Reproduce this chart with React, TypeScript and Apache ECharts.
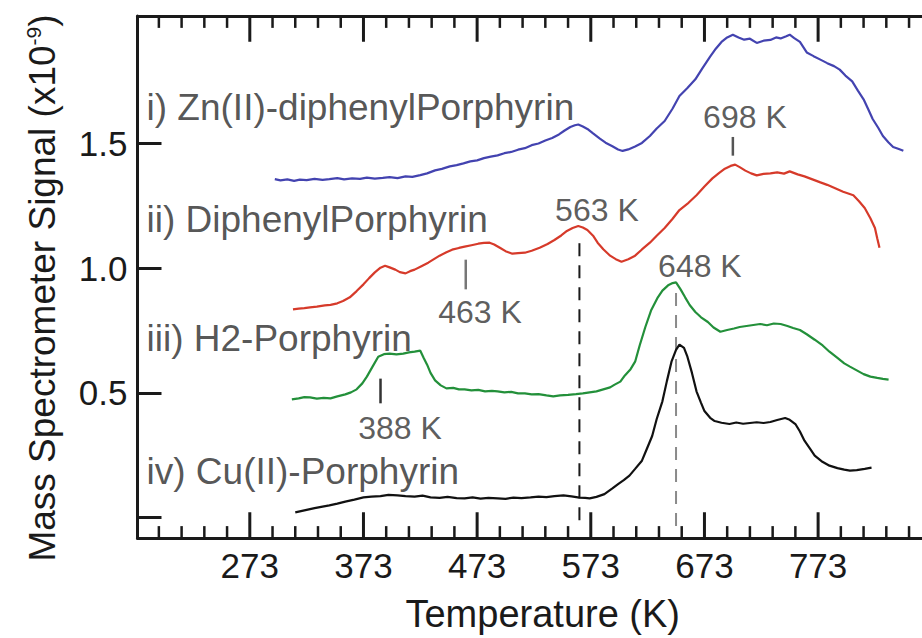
import React, { useEffect, useRef } from "react";
import * as echarts from "echarts";

// Axis ranges (K and signal x1e-9)
const X_MIN = 174.2;
const X_MAX = 864.4;
const Y_MIN = -0.082;
const Y_MAX = 2.011;

const majorTicksX = [273, 373, 473, 573, 673, 773];
const minorTicksX = [193, 213, 233, 253, 293, 313, 333, 353, 393, 413, 433, 453, 493, 513, 533, 553, 593, 613, 633, 653, 693, 713, 733, 753, 793, 813, 833, 853];
const yTicks = [0, 0.5, 1.0, 1.5];
const yLabels = [0.5, 1.0, 1.5];

// i) Zn(II)-diphenylPorphyrin
const znDiphenyl: [number, number][] = [
  [295, 1.357], [300, 1.352], [306, 1.356], [312, 1.350], [317, 1.355], [323, 1.353], [330, 1.358], [337, 1.354],
  [343, 1.357], [350, 1.361], [356, 1.356], [363, 1.360], [370, 1.358], [376, 1.363], [383, 1.359], [390, 1.362],
  [396, 1.365], [403, 1.361], [410, 1.368], [416, 1.366], [423, 1.373], [429, 1.380], [436, 1.392], [442, 1.398],
  [449, 1.408], [455, 1.413], [461, 1.420], [467, 1.428], [473, 1.432], [479, 1.441], [485, 1.447], [491, 1.452],
  [497, 1.461], [503, 1.466], [509, 1.475], [515, 1.481], [521, 1.493], [527, 1.500], [533, 1.512], [539, 1.522],
  [545, 1.536], [550, 1.552], [555, 1.566], [559, 1.573], [562, 1.576], [566, 1.568], [570, 1.558], [575, 1.540],
  [581, 1.519], [586, 1.503], [592, 1.489], [597, 1.476], [601, 1.470], [606, 1.476], [612, 1.488], [618, 1.502],
  [625, 1.530], [631, 1.560], [638, 1.590], [645, 1.640], [651, 1.690], [658, 1.722], [665, 1.757], [671, 1.800],
  [678, 1.848], [683, 1.880], [688, 1.907], [693, 1.925], [698, 1.936], [703, 1.925], [708, 1.916], [713, 1.920],
  [719, 1.903], [725, 1.912], [731, 1.915], [736, 1.925], [740, 1.921], [745, 1.930], [748, 1.936], [752, 1.922],
  [757, 1.907], [763, 1.865], [769, 1.850], [775, 1.836], [781, 1.822], [787, 1.810], [792, 1.796], [797, 1.772],
  [803, 1.749], [808, 1.712], [813, 1.677], [817, 1.638], [821, 1.598], [826, 1.562], [830, 1.530], [835, 1.504],
  [839, 1.486], [844, 1.478], [848, 1.471],
];

// ii) DiphenylPorphyrin
const diphenyl: [number, number][] = [
  [311, 0.835], [316, 0.838], [321, 0.840], [326, 0.843], [332, 0.846], [339, 0.851], [344, 0.853], [350, 0.859],
  [355, 0.868], [361, 0.883], [367, 0.908], [373, 0.935], [378, 0.960], [383, 0.983], [388, 1.002], [392, 1.010],
  [396, 1.003], [401, 0.994], [405, 0.984], [410, 0.979], [414, 0.988], [418, 0.994], [424, 1.008], [430, 1.022],
  [435, 1.036], [440, 1.050], [446, 1.064], [451, 1.074], [457, 1.081], [462, 1.086], [468, 1.092], [474, 1.098],
  [479, 1.101], [484, 1.102], [488, 1.095], [493, 1.082], [498, 1.068], [504, 1.058], [509, 1.060], [515, 1.062],
  [521, 1.070], [528, 1.082], [535, 1.097], [541, 1.113], [547, 1.131], [552, 1.149], [557, 1.161], [562, 1.169],
  [566, 1.163], [570, 1.153], [575, 1.130], [579, 1.102], [584, 1.076], [590, 1.050], [595, 1.036], [600, 1.026],
  [606, 1.036], [612, 1.050], [618, 1.075], [625, 1.102], [631, 1.130], [638, 1.161], [645, 1.198], [651, 1.233],
  [659, 1.262], [666, 1.292], [673, 1.327], [680, 1.360], [686, 1.382], [691, 1.399], [696, 1.410], [700, 1.415],
  [704, 1.405], [709, 1.391], [714, 1.380], [719, 1.372], [725, 1.378], [731, 1.380], [737, 1.384], [743, 1.379],
  [748, 1.388], [755, 1.376], [761, 1.368], [768, 1.356], [775, 1.344], [781, 1.334], [788, 1.320], [795, 1.306],
  [804, 1.292], [809, 1.268], [814, 1.241], [819, 1.200], [823, 1.161], [825, 1.120], [827, 1.082],
];

// iii) H2-Porphyrin
const h2Porphyrin: [number, number][] = [
  [310, 0.474], [316, 0.478], [321, 0.483], [326, 0.482], [332, 0.477], [338, 0.480], [344, 0.478], [350, 0.486],
  [357, 0.494], [362, 0.502], [367, 0.514], [372, 0.538], [376, 0.565], [381, 0.605], [386, 0.645], [391, 0.655],
  [396, 0.657], [402, 0.654], [408, 0.657], [413, 0.662], [418, 0.665], [423, 0.669], [426, 0.640], [429, 0.613],
  [432, 0.580], [436, 0.550], [441, 0.530], [446, 0.518], [452, 0.520], [457, 0.514], [462, 0.514], [468, 0.510],
  [474, 0.512], [480, 0.506], [486, 0.508], [491, 0.506], [497, 0.502], [503, 0.504], [509, 0.498], [515, 0.498],
  [521, 0.494], [527, 0.495], [534, 0.490], [540, 0.486], [546, 0.490], [553, 0.492], [560, 0.495], [566, 0.498],
  [572, 0.502], [578, 0.506], [584, 0.514], [590, 0.522], [594, 0.533], [599, 0.545], [603, 0.570], [608, 0.595],
  [612, 0.625], [616, 0.690], [621, 0.764], [626, 0.830], [632, 0.883], [636, 0.910], [641, 0.931], [645, 0.940],
  [648, 0.943], [652, 0.915], [656, 0.883], [660, 0.852], [665, 0.824], [670, 0.803], [676, 0.784], [681, 0.762],
  [687, 0.745], [693, 0.752], [699, 0.758], [704, 0.764], [710, 0.768], [716, 0.772], [722, 0.776], [728, 0.771],
  [734, 0.778], [740, 0.776], [746, 0.768], [751, 0.760], [757, 0.752], [763, 0.735], [770, 0.713], [777, 0.690],
  [783, 0.665], [790, 0.640], [796, 0.618], [801, 0.605], [807, 0.590], [813, 0.575], [819, 0.565], [825, 0.560],
  [830, 0.556], [835, 0.553],
];

// iv) Cu(II)-Porphyrin
const cuPorphyrin: [number, number][] = [
  [313, 0.021], [318, 0.026], [324, 0.032], [330, 0.038], [337, 0.044], [343, 0.049], [350, 0.056], [357, 0.064],
  [365, 0.072], [373, 0.081], [380, 0.084], [388, 0.086], [395, 0.091], [403, 0.089], [410, 0.086], [418, 0.084],
  [425, 0.088], [432, 0.081], [440, 0.079], [447, 0.083], [455, 0.078], [462, 0.077], [469, 0.081], [476, 0.076],
  [483, 0.079], [491, 0.077], [498, 0.075], [505, 0.080], [512, 0.078], [520, 0.081], [527, 0.084], [534, 0.082],
  [541, 0.086], [549, 0.089], [556, 0.085], [563, 0.080], [568, 0.079], [572, 0.077], [578, 0.083], [585, 0.094],
  [592, 0.117], [597, 0.134], [602, 0.150], [607, 0.168], [612, 0.195], [618, 0.228], [622, 0.272], [627, 0.327],
  [631, 0.395], [636, 0.466], [640, 0.548], [644, 0.625], [648, 0.672], [651, 0.693], [655, 0.680], [658, 0.645],
  [662, 0.580], [666, 0.506], [670, 0.460], [673, 0.427], [678, 0.400], [682, 0.387], [688, 0.380], [695, 0.375],
  [701, 0.381], [707, 0.376], [713, 0.379], [719, 0.382], [725, 0.379], [731, 0.383], [737, 0.391], [744, 0.399],
  [748, 0.392], [753, 0.375], [757, 0.345], [761, 0.308], [766, 0.275], [770, 0.248], [776, 0.226], [783, 0.208],
  [790, 0.198], [796, 0.192], [801, 0.188], [807, 0.190], [814, 0.195], [820, 0.200],
];

const seriesNames = [
  "i) Zn(II)-diphenylPorphyrin",
  "ii) DiphenylPorphyrin",
  "iii) H2-Porphyrin",
  "iv) Cu(II)-Porphyrin",
];
// curve-name label anchors [K, signal]
const nameAnchors: [number, number][] = [
  [181.7, 1.646],
  [181.7, 1.196],
  [181.7, 0.718],
  [181.7, 0.184],
];

// Peak temperatures and their annotation labels
const peakLabels = ["698 K", "563 K", "463 K", "648 K", "388 K"];
const peakLabelAnchors: [number, number][] = [
  [708.6, 1.606],
  [578.4, 1.235],
  [475.5, 0.824],
  [669.0, 1.010],
  [405.2, 0.358],
];
// short marker ticks [K, from, to]
const peakTicks: [number, number, number][] = [
  [698, 1.526, 1.451],
  [463, 1.034, 0.915],
  [388, 0.557, 0.458],
];
// dashed guide lines [K, from, to]
const guide563: [number, number, number] = [563, 1.10, -0.03];
const guide648: [number, number, number] = [648, 0.90, -0.05];

const FONT = "'Liberation Sans', Arial, Helvetica, sans-serif";
const INK = "#1a1a1a";
const GRID_TOP = 16;
const GRID_BOTTOM = 95;
const CHART_H = 638;

export default function App() {
  const ref = useRef<HTMLDivElement>(null);

  useEffect(() => {
    if (!ref.current) return;
    const chart = echarts.init(ref.current, undefined, { renderer: "svg" });

    const unitsPerPx = (Y_MAX - Y_MIN) / (CHART_H - GRID_TOP - GRID_BOTTOM);

    const lineSeries = (name: string, data: [number, number][], color: string) => ({
      type: "line",
      name,
      data,
      showSymbol: false,
      symbol: "none",
      silent: true,
      lineStyle: { color, width: 2.2 },
      z: 3,
    });

    const vSeg = (seg: [number, number, number], color: string, dashed: boolean, width: number, z = 2) => ({
      type: "line",
      data: [
        [seg[0], seg[1]],
        [seg[0], seg[2]],
      ],
      symbol: "none",
      silent: true,
      clip: false,
      lineStyle: { color, width, type: dashed ? [13, 9] : "solid" },
      z,
    });

    // x frame ticks on bottom and top, pointing inward (short vertical segments in data space)
    const frameTicks = (values: number[], lenPx: number, lw: number) =>
      values.flatMap((t) => [
        vSeg([t, Y_MIN, Y_MIN + lenPx * unitsPerPx], INK, false, lw, 10),
        vSeg([t, Y_MAX, Y_MAX - lenPx * unitsPerPx], INK, false, lw, 10),
      ]);

    chart.setOption({
      animation: false,
      backgroundColor: "#ffffff",
      grid: { left: 137.5, right: 0, top: GRID_TOP, bottom: GRID_BOTTOM, containLabel: false },
      xAxis: [
        {
          type: "value",
          min: X_MIN,
          max: X_MAX,
          position: "bottom",
          splitLine: { show: false },
          name: "Temperature (K)",
          nameLocation: "middle",
          nameGap: 57,
          nameTextStyle: { fontFamily: FONT, fontSize: 38, color: INK, padding: [0, 0, 0, 26] },
          axisLine: { show: true, onZero: false, lineStyle: { color: INK, width: 3 } },
          axisTick: { show: false },
          axisLabel: { show: true, customValues: majorTicksX, margin: 10, fontFamily: FONT, fontSize: 35, color: INK },
        },
        {
          type: "value",
          min: X_MIN,
          max: X_MAX,
          position: "top",
          splitLine: { show: false },
          axisLine: { show: true, onZero: false, lineStyle: { color: INK, width: 3 } },
          axisTick: { show: false },
          axisLabel: { show: false },
        },
      ],
      yAxis: [
        {
          type: "value",
          min: Y_MIN,
          max: Y_MAX,
          position: "left",
          splitLine: { show: false },
          name: "{a|Mass Spectrometer Signal (x10}{s|-9}{a|)}",
          nameLocation: "middle",
          nameGap: 76,
          nameRotate: 90,
          nameTextStyle: {
            color: INK,
            padding: [0, 22, 0, 0],
            rich: {
              a: { fontFamily: FONT, fontSize: 37, color: INK },
              s: { fontFamily: FONT, fontSize: 21, color: INK, padding: [0, 0, 18, 0] },
            },
          },
          axisLine: { show: true, onZero: false, lineStyle: { color: INK, width: 3 } },
          axisTick: { show: true, inside: true, length: 24, customValues: yTicks, lineStyle: { color: INK, width: 3 } },
          axisLabel: {
            show: true,
            customValues: yLabels,
            margin: 10,
            fontFamily: FONT,
            fontSize: 35,
            color: INK,
            formatter: (v: number) => v.toFixed(1),
          },
        },
      ],
      series: [
        ...frameTicks(majorTicksX, 26, 3),
        ...frameTicks(minorTicksX, 12, 2.5),
        vSeg(guide563, "#1a1a1a", true, 2),
        vSeg(guide648, "#8a8a8a", true, 2),
        vSeg(peakTicks[0], "#555555", false, 2.5),
        vSeg(peakTicks[1], "#777777", false, 2.5),
        vSeg(peakTicks[2], "#333333", false, 2.5),
        lineSeries(seriesNames[0], znDiphenyl, "#4343b0"),
        lineSeries(seriesNames[1], diphenyl, "#d63a2a"),
        lineSeries(seriesNames[2], h2Porphyrin, "#23903a"),
        lineSeries(seriesNames[3], cuPorphyrin, "#111111"),
        {
          type: "scatter",
          silent: true,
          symbolSize: 1,
          itemStyle: { color: "rgba(0,0,0,0)" },
          data: nameAnchors.map((p, i) => ({ value: p, name: seriesNames[i] })),
          label: {
            show: true,
            position: "right",
            distance: 0,
            formatter: (p: any) => p.name,
            fontFamily: FONT,
            fontSize: 37,
            color: "#2a2a2a",
          },
          z: 4,
        },
        {
          type: "scatter",
          silent: true,
          symbolSize: 1,
          itemStyle: { color: "rgba(0,0,0,0)" },
          data: peakLabelAnchors.map((p, i) => ({ value: p, name: peakLabels[i] })),
          label: {
            show: true,
            position: "inside",
            formatter: (p: any) => p.name,
            fontFamily: FONT,
            fontSize: 32,
            color: "#333333",
          },
          z: 4,
        },
      ],
    });

    return () => chart.dispose();
  }, []);

  return (
    <div
      ref={ref}
      style={{ position: "fixed", left: 0, top: 0, width: 922, height: 638, background: "#fff" }}
    />
  );
}
